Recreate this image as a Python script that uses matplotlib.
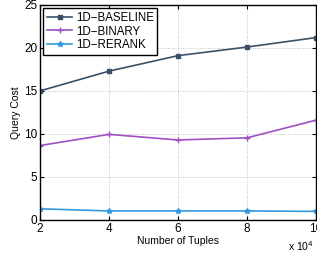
import matplotlib
matplotlib.use('Agg')
import matplotlib.pyplot as plt

tuples = [2, 4, 6, 8, 10]
baseline = [15.0, 17.3, 19.1, 20.1, 21.2]
binary = [8.65, 9.95, 9.3, 9.55, 11.6]
rerank = [1.3, 1.05, 1.05, 1.05, 1.0]

plt.rcParams['font.family'] = ['Liberation Sans', 'DejaVu Sans']

fig = plt.figure(figsize=(3.17, 2.57), dpi=100)
ax = fig.add_axes([0.126, 0.144, 0.871, 0.837])

ax.plot(tuples, baseline, color='#3b5068', marker='s', markersize=3.5, linewidth=1.2, label='1D\u2212BASELINE')
ax.plot(tuples, binary, color='#a050c0', marker='+', markersize=4, linewidth=1.2, label='1D\u2212BINARY')
ax.plot(tuples, rerank, color='#3399dd', marker='*', markersize=4, linewidth=1.2, label='1D\u2212RERANK')

ax.set_xlim(2, 10)
ax.set_ylim(0, 25)
ax.set_xticks(tuples)
ax.set_xticklabels(['2', '4', '6', '8', '10'])
ax.set_yticks([0, 5, 10, 15, 20, 25])
ax.tick_params(direction='in', top=True, right=True, labelsize=8.5, length=3, pad=2)
ax.grid(True, linestyle=(0, (1, 2)), color='#aaaaaa', linewidth=0.6)
for s in ax.spines.values():
    s.set_linewidth(1.0)

ax.set_xlabel('Number of Tuples', fontsize=7.5, labelpad=1)
ax.set_ylabel('Query Cost', fontsize=7.5, labelpad=2)
fig.text(0.99, 0.015, r'x 10$^4$', ha='right', va='bottom', fontsize=7.5)

leg = ax.legend(loc='upper left', fontsize=8.3, fancybox=False, framealpha=1,
                edgecolor='black', borderpad=0.3, labelspacing=0.15,
                handlelength=2.2, handletextpad=0.3, borderaxespad=0.3)
leg.get_frame().set_linewidth(1.0)

fig.savefig('out.png', dpi=100)
